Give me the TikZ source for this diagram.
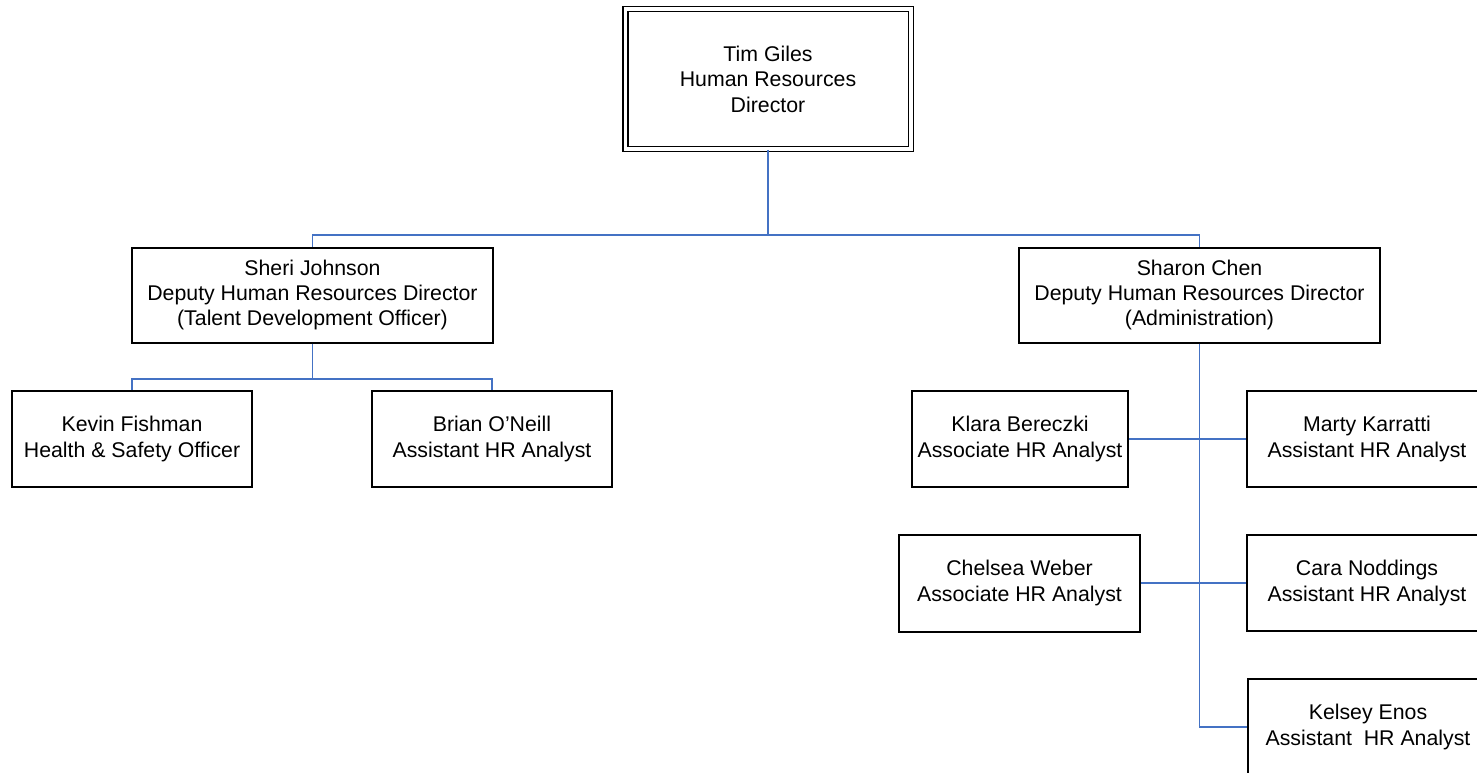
\documentclass[tikz,border=0pt]{standalone}
\usepackage{fontspec}
\setmainfont{Liberation Sans}
\usetikzlibrary{positioning}
\definecolor{linkblue}{RGB}{68,114,196}

\begin{document}
\begin{tikzpicture}[
  x=0.5pt, y=-0.5pt,
  font=\fontsize{10.65pt}{12.7pt}\selectfont,
  box/.style={rectangle, draw=black, line width=1pt, align=center, inner sep=2pt},
  head/.style={box, line width=0.75pt, double=white, double distance=1.75pt, minimum width=142.75pt, minimum height=70pt},
  deputy/.style={box, minimum width=180.5pt, minimum height=47.5pt},
  staff/.style={box, minimum width=120pt, minimum height=48pt},
  link/.style={draw=linkblue, line width=0.9pt}
]
\useasboundingbox (0,0) rectangle (1477,772);
\clip (0,0) rectangle (1477,772);

% director
\node[head] (tim) at (768,79) {Tim Giles\\Human Resources\\Director};

% deputies
\node[deputy] (sheri) at (312.5,295) {Sheri Johnson\\Deputy Human Resources Director\\(Talent Development Officer)};
\node[deputy] (sharon) at (1199.5,295) {Sharon Chen\\Deputy Human Resources Director\\(Administration)};

% talent development
\node[staff] (kevin) at (132,439) {Kevin Fishman\\Health \& Safety Officer};
\node[staff, right=59pt of kevin] (brian) {Brian O’Neill\\Assistant HR Analyst};

% administration
\node[staff, minimum width=108pt] (klara) at (1020,439) {Klara Bereczki\\Associate HR Analyst};
\node[staff] (marty) at (1367,439) {Marty Karratti\\Assistant HR Analyst};
\node[staff, minimum width=120.5pt, minimum height=48.5pt] (chelsea) at (1019.5,583) {Chelsea Weber\\Associate HR Analyst};
\node[staff] (cara) at (1367,583) {Cara Noddings\\Assistant HR Analyst};
\node[staff] (kelsey) at (1368,727) {Kelsey Enos\\Assistant~ HR Analyst};

% connectors
\coordinate (topbus) at (768,235);
\draw[link] (tim) -- (topbus);
\draw[link] (sheri.north) |- (topbus) -| (sharon.north);

\coordinate (sjbus) at (312.5,379);
\draw[link] (sheri) -- (sjbus);
\draw[link] (kevin.north) |- (sjbus) -| (brian.north);

\draw[link] (sharon.south) |- (kelsey.west);
\draw[link] (klara) -- (marty);
\draw[link] (chelsea) -- (cara);

\end{tikzpicture}
\end{document}
